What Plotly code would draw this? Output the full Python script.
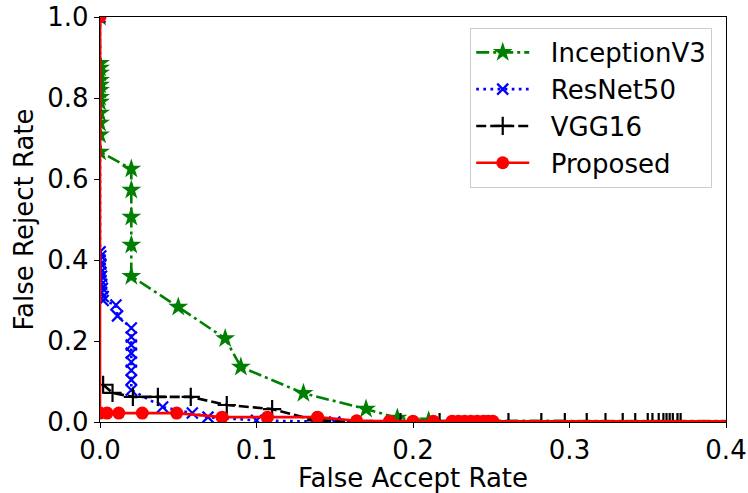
import plotly.graph_objects as go

# InceptionV3
incep_far = [0.0, 0.0, 0.0, 0.0, 0.0, 0.0, 0.0, 0.0, 0.0, 0.0, 0.0, 0.0, 0.0,
             0.02, 0.02, 0.02, 0.02, 0.02, 0.05, 0.08, 0.09, 0.13, 0.17, 0.19, 0.21, 1.0]
incep_frr = [1.0, 0.886, 0.874, 0.862, 0.844, 0.832, 0.819, 0.802, 0.79, 0.763, 0.738, 0.709, 0.667,
             0.625, 0.573, 0.506, 0.437, 0.36, 0.284, 0.206, 0.136, 0.071, 0.032, 0.01, 0.003, 0.0]

# ResNet50
res_far = [0.0, 0.0, 0.0005, 0.0, 0.0005, 0.0, 0.0005, 0.001, 0.0005, 0.001, 0.0015, 0.001, 0.002, 0.002,
           0.0102, 0.0112, 0.02, 0.02, 0.02, 0.02, 0.02, 0.02, 0.02, 0.02,
           0.04, 0.059, 0.069, 0.1, 0.15, 1.0]
res_frr = [1.0, 0.42, 0.41, 0.4, 0.39, 0.38, 0.37, 0.36, 0.35, 0.34, 0.33, 0.32, 0.31, 0.30,
           0.289, 0.262, 0.232, 0.21, 0.19, 0.17, 0.148, 0.128, 0.104, 0.079,
           0.037, 0.022, 0.012, 0.004, 0.0, 0.0]

# VGG16
vgg_far = [0.002, 0.008, 0.021, 0.037, 0.058, 0.081, 0.11, 0.138, 0.192, 0.217, 0.261, 0.282,
           0.297, 0.311, 0.323, 0.334, 0.342, 0.35, 0.353, 0.357, 0.36, 0.362, 0.364, 0.366,
           0.369, 0.371, 1.0]
vgg_frr = [0.092, 0.072, 0.062, 0.062, 0.062, 0.042, 0.032, 0.004, 0.0, 0.0, 0.0, 0.0,
           0.0, 0.0, 0.0, 0.0, 0.0, 0.0, 0.0, 0.0, 0.0, 0.0, 0.0, 0.0,
           0.0, 0.0, 0.0]

# Proposed
prop_far = [0.0, 0.0, 0.0045, 0.012, 0.027, 0.049, 0.078, 0.107, 0.139, 0.164, 0.185, 0.2, 0.213,
            0.225, 0.229, 0.233, 0.237, 0.241, 0.245, 0.248, 0.251, 1.0]
prop_frr = [1.0, 0.022, 0.022, 0.022, 0.022, 0.022, 0.012, 0.012, 0.012, 0.003, 0.002, 0.002, 0.002,
            0.002, 0.002, 0.002, 0.002, 0.002, 0.002, 0.002, 0.002, 0.0]

series_names = ["InceptionV3", "ResNet50", "VGG16", "Proposed"]

FONT = "DejaVu Sans"
FS = 26
PAD = "\u00a0\u00a0"

fig = go.Figure()
fig.add_trace(go.Scatter(
    x=incep_far, y=incep_frr, name=PAD + series_names[0], mode="lines+markers", legendgroup="a",
    line=dict(color="green", width=2.6, dash="13px,4px,3px,4px"),
    marker=dict(symbol="star", size=15, color="green", line=dict(width=0))))
fig.add_trace(go.Scatter(
    x=res_far, y=res_frr, name=PAD + series_names[1], mode="lines+markers", legendgroup="b",
    line=dict(color="blue", width=2.6, dash="2.7px,4.4px"),
    marker=dict(symbol="x-thin", size=11, color="blue", line=dict(width=2.2, color="blue"))))
fig.add_trace(go.Scatter(
    x=vgg_far, y=vgg_frr, name=PAD + series_names[2], mode="lines+markers", legendgroup="c",
    line=dict(color="black", width=2.6, dash="10px,4px"),
    marker=dict(symbol="cross-thin", size=13, color="black", line=dict(width=2.2, color="black"))))
fig.add_trace(go.Scatter(
    x=prop_far, y=prop_frr, name=PAD + series_names[3], mode="lines+markers", legendgroup="d",
    line=dict(color="red", width=2.6),
    marker=dict(symbol="circle", size=13, color="red", line=dict(width=0))))

axis_common = dict(
    showline=True, mirror=True, linecolor="black", linewidth=1.3,
    ticks="outside", ticklen=5, tickwidth=1.3, tickcolor="black",
    showgrid=False, zeroline=False,
    tickfont=dict(family=FONT, size=FS, color="black"),
)

fig.update_layout(
    width=748, height=493,
    margin=dict(l=100, r=22, t=17, b=71, autoexpand=False),
    paper_bgcolor="white", plot_bgcolor="white",
    font=dict(family=FONT, size=FS, color="black"),
    xaxis=dict(range=[0, 0.4], tickvals=[0, 0.1, 0.2, 0.3, 0.4], tickformat=".1f",
               title=dict(text="False Accept Rate", font=dict(family=FONT, size=FS), standoff=6),
               automargin=False, **axis_common),
    yaxis=dict(range=[0, 1.0], tickvals=[0, 0.2, 0.4, 0.6, 0.8, 1.0], tickformat=".1f",
               title=dict(text="False Reject Rate", font=dict(family=FONT, size=FS), standoff=6),
               automargin=False, **axis_common),
    legend=dict(x=0.978, y=0.973, xanchor="right", yanchor="top",
                bgcolor="rgba(255,255,255,0.8)", bordercolor="#cccccc", borderwidth=1,
                font=dict(family=FONT, size=FS, color="black"),
                tracegroupgap=0, itemwidth=53),
    showlegend=True,
)

fig.write_html("out.html")
